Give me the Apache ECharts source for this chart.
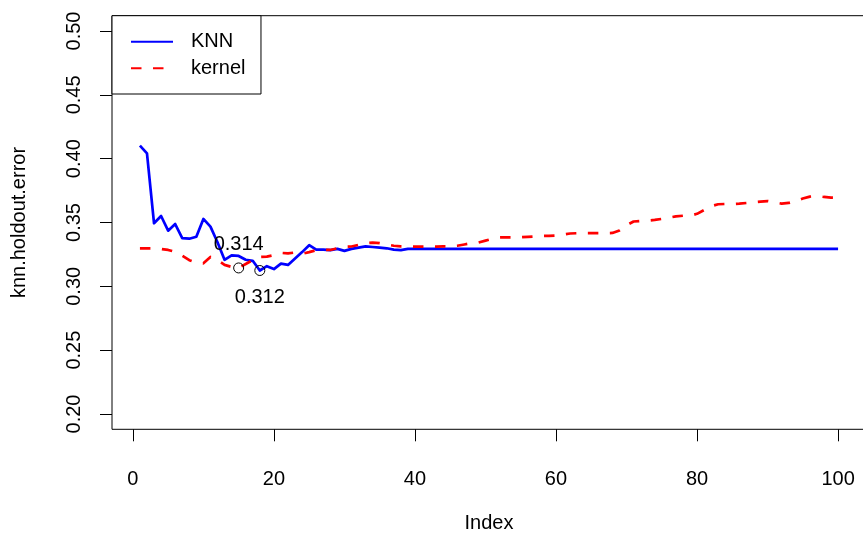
<!DOCTYPE html>
<html><head><meta charset="utf-8">
<script src="https://cdn.jsdelivr.net/npm/echarts@6/dist/echarts.min.js"></script>
<style>html,body{margin:0;padding:0;background:#fff}#c{width:863px;height:534px}</style>
</head><body><div id="c"></div>
<script>
const knnError = [
0.4102,0.4042,0.3494,0.3551,0.3436,0.3488,0.3378,0.3373,0.3388,0.3528,
0.3468,0.3345,0.3208,0.3243,0.3238,0.3208,0.3200,0.3124,0.3158,0.3135,
0.3178,0.3168,0.3218,0.3268,0.3322,0.3287,0.3287,0.3283,0.3293,0.3278,
0.3293,0.3303,0.3313,0.3308,0.3303,0.3298,0.3288,0.3283,0.3293,0.3293,
0.3293,0.3293,0.3293,0.3293,0.3293,0.3293,0.3293,0.3293,0.3293,0.3293,
0.3293,0.3293,0.3293,0.3293,0.3293,0.3293,0.3293,0.3293,0.3293,0.3293,
0.3293,0.3293,0.3293,0.3293,0.3293,0.3293,0.3293,0.3293,0.3293,0.3293,
0.3293,0.3293,0.3293,0.3293,0.3293,0.3293,0.3293,0.3293,0.3293,0.3293,
0.3293,0.3293,0.3293,0.3293,0.3293,0.3293,0.3293,0.3293,0.3293,0.3293,
0.3293,0.3293,0.3293,0.3293,0.3293,0.3293,0.3293,0.3293,0.3293,0.3293
];
const kernelError = [
0.3298,0.3298,0.3298,0.3293,0.3285,0.3270,0.3240,0.3205,0.3185,0.3180,
0.3230,0.3205,0.3168,0.3152,0.3144,0.3175,0.3205,0.3230,0.3233,0.3245,
0.3262,0.3258,0.3265,0.3255,0.3268,0.3283,0.3285,0.3285,0.3298,0.3310,
0.3312,0.3325,0.3338,0.3343,0.3338,0.3328,0.3318,0.3313,0.3313,0.3311,
0.3311,0.3311,0.3311,0.3313,0.3313,0.3318,0.3328,0.3338,0.3343,0.3358,
0.3373,0.3383,0.3384,0.3384,0.3384,0.3388,0.3391,0.3394,0.3396,0.3398,
0.3405,0.3414,0.3416,0.3416,0.3416,0.3416,0.3416,0.3418,0.3438,0.3478,
0.3508,0.3512,0.3515,0.3520,0.3528,0.3538,0.3548,0.3553,0.3553,0.3568,
0.3598,0.3628,0.3643,0.3645,0.3645,0.3648,0.3653,0.3658,0.3663,0.3668,
0.3658,0.3648,0.3653,0.3668,0.3688,0.3703,0.3708,0.3700,0.3695,0.3694
];
const minIndex = [15, 18];
const minValue = [0.3144, 0.3124];
const xTicks = [0, 20, 40, 60, 80, 100];
const yTicks = [0.20, 0.25, 0.30, 0.35, 0.40, 0.45, 0.50];

const FONT = 'Liberation Sans, Arial, Helvetica, sans-serif';
const chart = echarts.init(document.getElementById('c'), null, {renderer: 'canvas'});
const option = {
  animation: false,
  backgroundColor: '#fff',
  textStyle: {fontFamily: FONT},
  grid: {left: 112, top: 15.7, width: 754, height: 413.6, show: true,
         containLabel: false, outerBoundsMode: 'none',
         borderColor: '#000', borderWidth: 1, backgroundColor: 'transparent'},
  xAxis: {
    type: 'value', min: -2.96, max: 103.96,
    name: 'Index', nameLocation: 'middle', nameGap: 84, nameMoveOverlap: false,
    nameTextStyle: {fontSize: 20, color: '#000', fontFamily: FONT, lineHeight: 20},
    axisLine: {show: false, onZero: false},
    axisTick: {show: true, customValues: xTicks, length: 12, lineStyle: {color: '#000', width: 1}},
    axisLabel: {customValues: xTicks, margin: 40, fontSize: 20, color: '#000', fontFamily: FONT, lineHeight: 20},
    splitLine: {show: false}
  },
  yAxis: {
    type: 'value', min: 0.188, max: 0.512,
    name: 'knn.holdout.error', nameLocation: 'middle', nameGap: 83, nameMoveOverlap: false,
    nameTextStyle: {fontSize: 20, color: '#000', fontFamily: FONT, lineHeight: 20},
    axisLine: {show: false, onZero: false},
    axisTick: {show: true, customValues: yTicks, length: 12, lineStyle: {color: '#000', width: 1}},
    axisLabel: {customValues: yTicks, rotate: 90, margin: 28, fontSize: 20, color: '#000',
                fontFamily: FONT, lineHeight: 20, formatter: v => v.toFixed(2)},
    splitLine: {show: false}
  },
  legend: {
    data: ['KNN', 'kernel'], orient: 'vertical', left: 112, top: 15.7,
    padding: [16, 15.5, 15.7, 18], itemWidth: 42, itemHeight: 20, itemGap: 6.6,
    borderColor: '#000', borderWidth: 1, backgroundColor: '#fff', borderRadius: 0,
    selectedMode: false,
    itemStyle: {opacity: 0, color: 'rgba(0,0,0,0)', borderWidth: 0},
    textStyle: {fontSize: 20, color: '#000', fontFamily: FONT, lineHeight: 20, padding: [0, 0, 0, 13]}
  },
  series: [
    {type: 'line', name: 'KNN', data: knnError.map((v, i) => [i + 1, v]), symbol: 'none',
     lineStyle: {color: '#0000ff', width: 2.7, join: 'round'}, itemStyle: {color: '#0000ff'}, z: 2,
     emphasis: {disabled: true}},
    {type: 'line', name: 'kernel', data: kernelError.map((v, i) => [i + 1, v]), symbol: 'none',
     lineStyle: {color: '#ff0000', width: 2.7, type: [10.5, 11.5], join: 'round'}, itemStyle: {color: '#ff0000'}, z: 3,
     emphasis: {disabled: true}},
    {type: 'scatter', name: 'min',
     data: minIndex.map((x, k) => ({value: [x, minValue[k]],
       label: {position: k === 0 ? 'top' : 'bottom', distance: k === 0 ? 7.5 : 11}})),
     symbol: 'circle', symbolSize: 10,
     itemStyle: {color: 'rgba(0,0,0,0)', borderColor: '#000', borderWidth: 1, opacity: 1},
     label: {show: true, formatter: p => p.value[1].toFixed(3), fontSize: 20, color: '#000',
             opacity: 1, fontFamily: FONT, lineHeight: 20},
     z: 5, emphasis: {disabled: true}}
  ]
};
chart.setOption(option);
</script></body></html>
